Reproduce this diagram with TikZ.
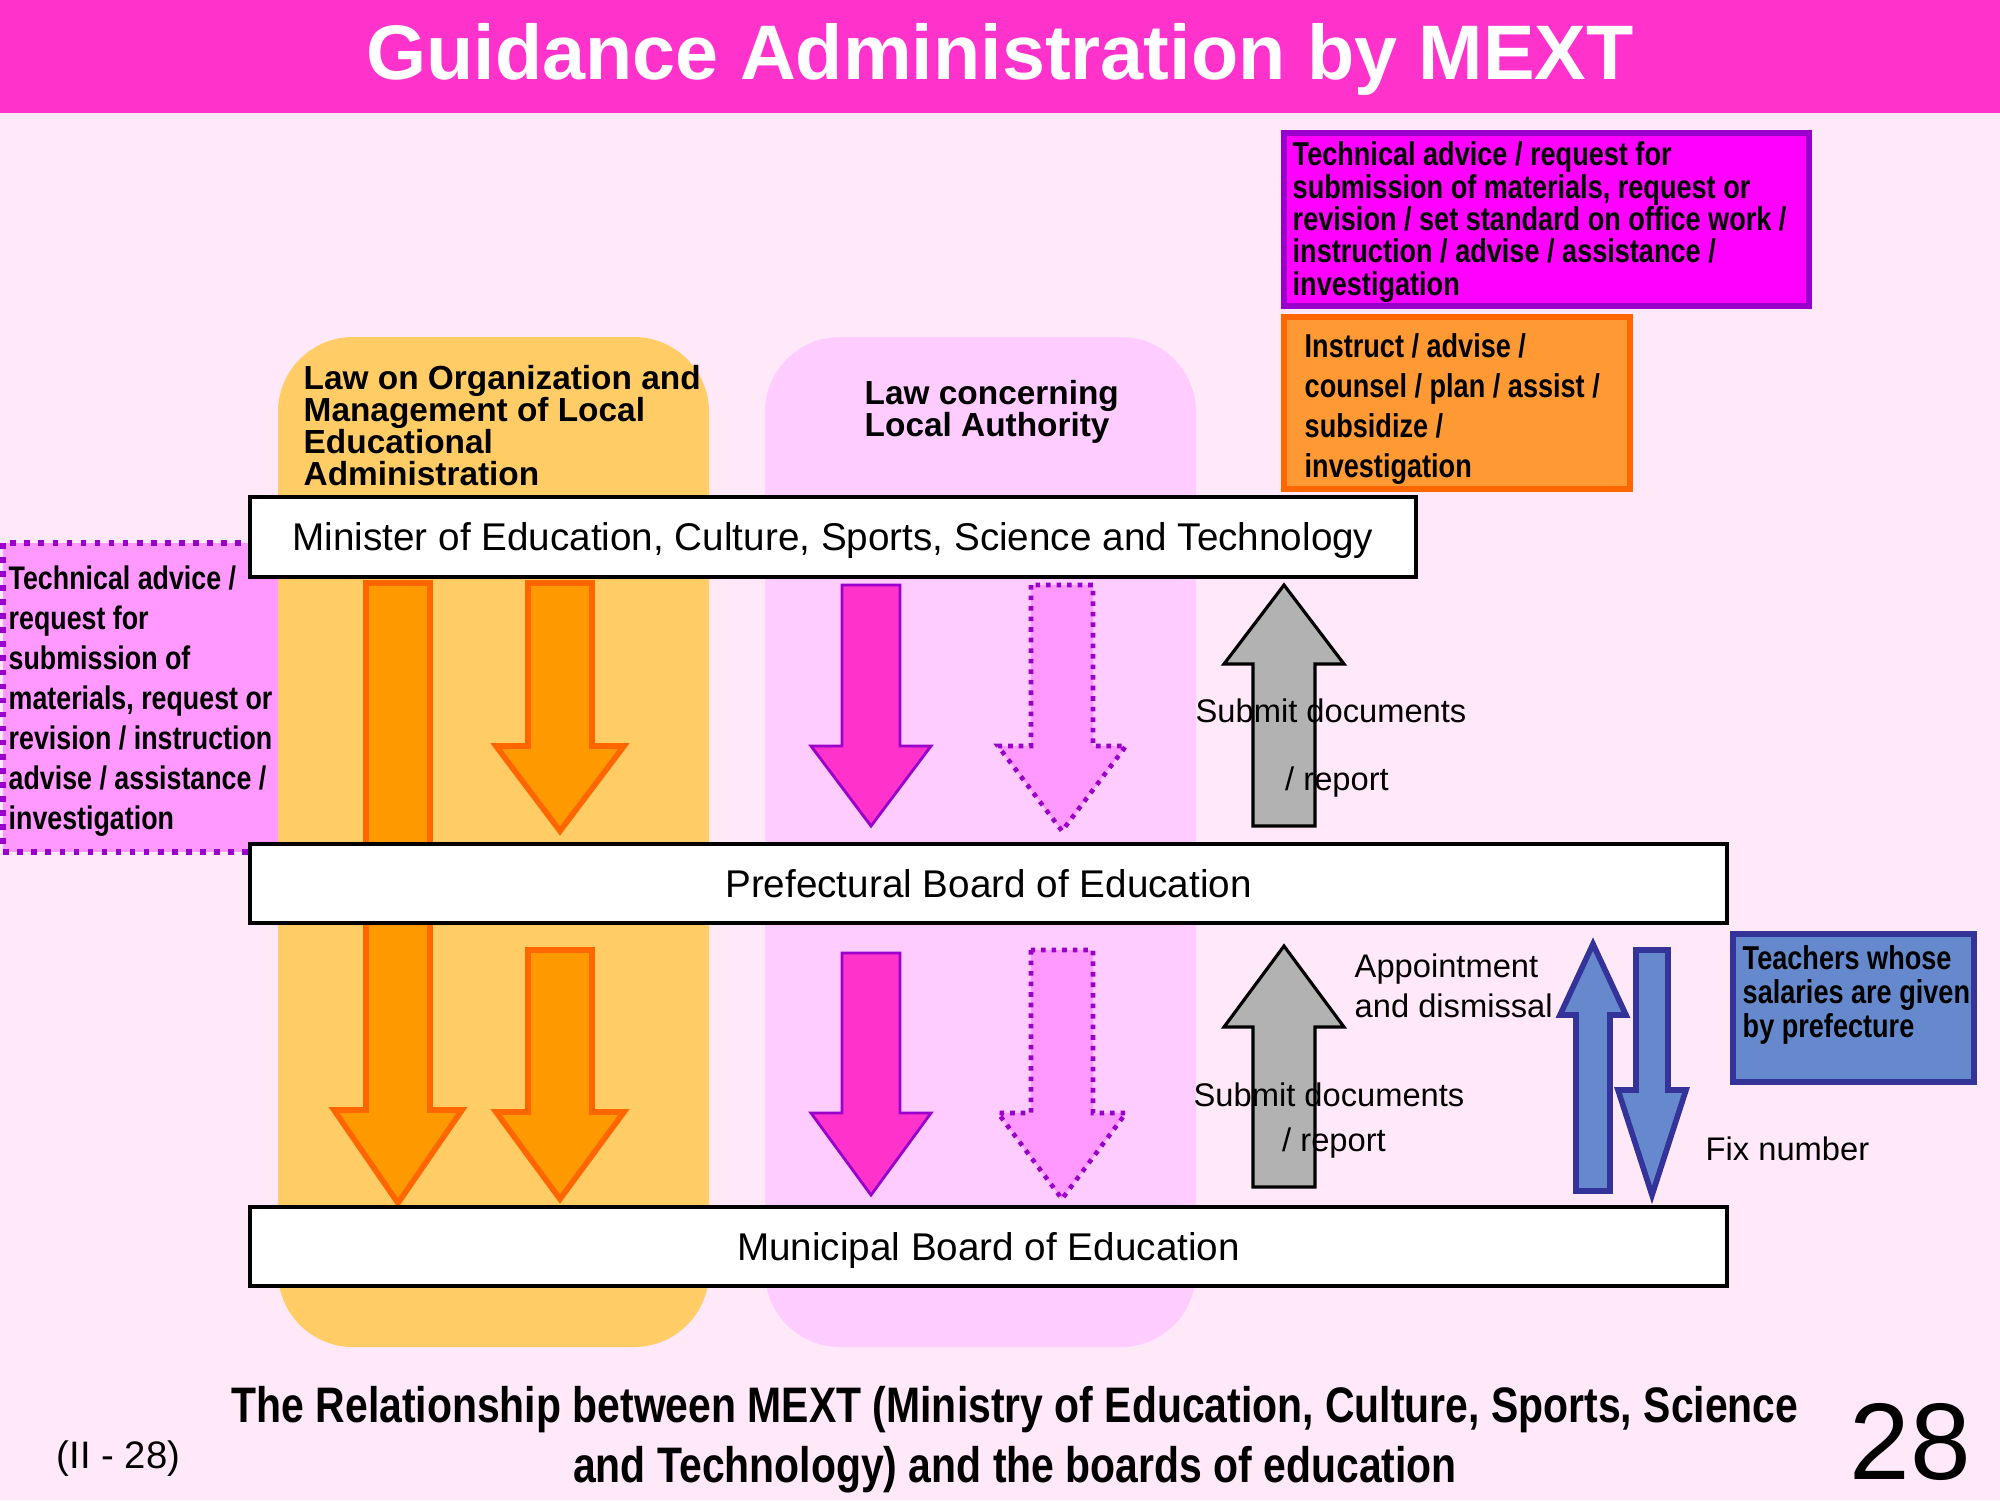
\documentclass[tikz,border=0pt]{standalone}
\usepackage{fontspec}
\setmainfont{Liberation Sans}
\newfontfamily\narrowsans[FakeStretch=0.82]{Liberation Sans}
\definecolor{pageBg}{HTML}{FFE8F8}
\definecolor{titleMag}{HTML}{FF33CC}
\definecolor{colOrange}{HTML}{FFCC66}
\definecolor{colPink}{HTML}{FFCCFF}
\definecolor{lilac}{HTML}{FF99FF}
\definecolor{purpleEdge}{HTML}{9900CC}
\definecolor{arrowOrange}{HTML}{FF9900}
\definecolor{edgeOrange}{HTML}{FF6600}
\definecolor{boxOrange}{HTML}{FF9933}
\definecolor{arrowMag}{HTML}{FF33CC}
\definecolor{boxMag}{HTML}{FF00FF}
\definecolor{steelBlue}{HTML}{6688CC}
\definecolor{navyEdge}{HTML}{333399}
\definecolor{arrowGray}{HTML}{B2B2B2}

% block arrow: [style]{x centre}{y tail}{y head base}{y tip}{shaft half}{head half}
\newcommand{\blockarrow}[7][]{%
  \draw[#1] ({#2-#6},#3) -- ({#2-#6},#4) -- ({#2-#7},#4) -- (#2,#5)
    -- ({#2+#7},#4) -- ({#2+#6},#4) -- ({#2+#6},#3) -- cycle;}

\begin{document}
\begin{tikzpicture}[
  x=1cm, y=-1cm,
  line join=miter,
  board/.style={draw=black, line width=1.1pt, fill=white, inner sep=0pt,
    text height=0.98em, text depth=0.21em,
    font=\fontsize{11pt}{13pt}\selectfont},
  law label/.style={anchor=west, align=left, inner sep=0pt,
    font=\bfseries\fontsize{9.5pt}{9.1pt}\selectfont},
  note/.style={anchor=west, align=left, inner sep=0pt,
    font=\narrowsans\bfseries\fontsize{9.4pt}{11.3pt}\selectfont},
  plain label/.style={inner sep=0pt, font=\fontsize{9.3pt}{11.4pt}\selectfont},
  orange arrow/.style={fill=arrowOrange, draw=edgeOrange, line width=1.6pt},
  mag arrow/.style={fill=arrowMag, draw=purpleEdge, line width=.8pt},
  dotted arrow/.style={fill=lilac, draw=purpleEdge, line width=1.3pt,
    dash pattern=on 1.3pt off 1.7pt},
  gray arrow/.style={fill=arrowGray, draw=black, line width=.9pt},
  blue arrow/.style={fill=steelBlue, draw=navyEdge, line width=1.6pt}
]
\useasboundingbox (0,0) rectangle (20,15);
\fill[pageBg] (0,0) rectangle (20,15);

% Title bar
\fill[titleMag] (0,0) rectangle (20,1.13);
\node[text=white, font=\bfseries\fontsize{22pt}{26pt}\selectfont] (title)
  at (10,0.59) {Guidance Administration by MEXT};

% Left note, partly hidden by the column and the boards
\draw[fill=lilac, draw=purpleEdge, line width=1.6pt,
  dash pattern=on 1.6pt off 2.4pt] (0.03,5.43) rectangle (3.05,8.52);

% The two law columns
\fill[colOrange, rounded corners=0.75cm] (2.78,3.37) rectangle (7.09,13.47);
\fill[colPink, rounded corners=0.75cm] (7.65,3.37) rectangle (11.96,13.47);
\node[law label] (lawOrg) at (3.03,4.26)
  {Law on Organization and\\Management of Local\\Educational\\Administration};
\node[law label] (lawLocal) at (8.64,4.12) {Law concerning\\Local Authority};

\node[note, font=\narrowsans\bfseries\fontsize{9.3pt}{11.4pt}\selectfont]
  (leftNote) at (0.08,7.01)
  {Technical advice /\\request for\\submission of\\materials, request or\\
   revision / instruction\\advise / assistance /\\investigation};

% Arrows between the levels
\blockarrow[orange arrow]{3.98}{5.83}{11.10}{12.03}{0.32}{0.64}
\blockarrow[orange arrow]{5.60}{5.83}{7.46}{8.31}{0.32}{0.64}
\blockarrow[orange arrow]{5.60}{9.50}{11.12}{11.99}{0.32}{0.64}
\blockarrow[mag arrow]{8.71}{5.85}{7.46}{8.26}{0.29}{0.60}
\blockarrow[mag arrow]{8.71}{9.53}{11.13}{11.95}{0.29}{0.60}
\blockarrow[dotted arrow]{10.62}{5.85}{7.46}{8.31}{0.31}{0.64}
\blockarrow[dotted arrow]{10.62}{9.50}{11.13}{11.99}{0.31}{0.64}
\blockarrow[gray arrow]{12.84}{8.26}{6.64}{5.85}{0.31}{0.60}
\blockarrow[gray arrow]{12.84}{11.87}{10.27}{9.46}{0.31}{0.60}
\blockarrow[blue arrow]{15.93}{11.91}{10.15}{9.44}{0.17}{0.33}
\blockarrow[blue arrow]{16.52}{9.50}{10.90}{11.95}{0.16}{0.34}

% The three levels
\node[board, minimum width=11.66cm, minimum height=0.80cm] (minister)
  at (8.33,5.37) {Minister of Education, Culture, Sports, Science and Technology};
\node[board, minimum width=14.77cm, minimum height=0.79cm] (pref)
  at (9.885,8.835) {Prefectural Board of Education};
\node[board, minimum width=14.77cm, minimum height=0.79cm] (muni)
  at (9.885,12.465) {Municipal Board of Education};

% Arrow labels
\node[plain label] (submitA) at (13.31,7.11) {Submit documents};
\node[plain label] (reportA) at (13.37,7.82) {/ report};
\node[plain label] (submitB) at (13.29,10.95) {Submit documents};
\node[plain label] (reportB) at (13.34,11.43) {/ report};
\node[plain label, anchor=west, align=left] (appoint) at (13.54,9.86)
  {Appointment\\and dismissal};
\node[plain label, anchor=west] (fixNum) at (17.05,11.49) {Fix number};

% Notes on the right
\draw[fill=boxMag, draw=purpleEdge, line width=1.8pt]
  (12.84,1.33) rectangle (18.09,3.06);
\node[note, font=\narrowsans\bfseries\fontsize{9.4pt}{9.2pt}\selectfont]
  (magNote) at (12.92,2.22)
  {Technical advice / request for\\submission of materials, request or\\
   revision / set standard on office work /\\instruction / advise / assistance /\\
   investigation};
\draw[fill=boxOrange, draw=edgeOrange, line width=1.8pt]
  (12.84,3.17) rectangle (16.30,4.89);
\node[note] (orangeNote) at (13.04,4.09)
  {Instruct / advise /\\counsel / plan / assist /\\subsidize /\\investigation};
\draw[fill=steelBlue, draw=navyEdge, line width=1.8pt]
  (17.33,9.34) rectangle (19.74,10.82);
\node[note, font=\narrowsans\bfseries\fontsize{9.4pt}{9.6pt}\selectfont]
  (teacherNote) at (17.42,9.95)
  {Teachers whose\\salaries are given\\by prefecture};

% Footer
\node[align=center, font=\narrowsans\bfseries\fontsize{14.2pt}{17pt}\selectfont]
  (caption) at (10.15,14.40)
  {The Relationship between MEXT (Ministry of Education, Culture, Sports, Science\\
   and Technology) and the boards of education};
\node[anchor=west, inner sep=0pt, font=\fontsize{10.9pt}{13pt}\selectfont]
  (slideRef) at (0.56,14.59) {(II - 28)};
\node[font=\fontsize{31pt}{34pt}\selectfont] (pageNo) at (19.10,14.42) {28};
\end{tikzpicture}
\end{document}
